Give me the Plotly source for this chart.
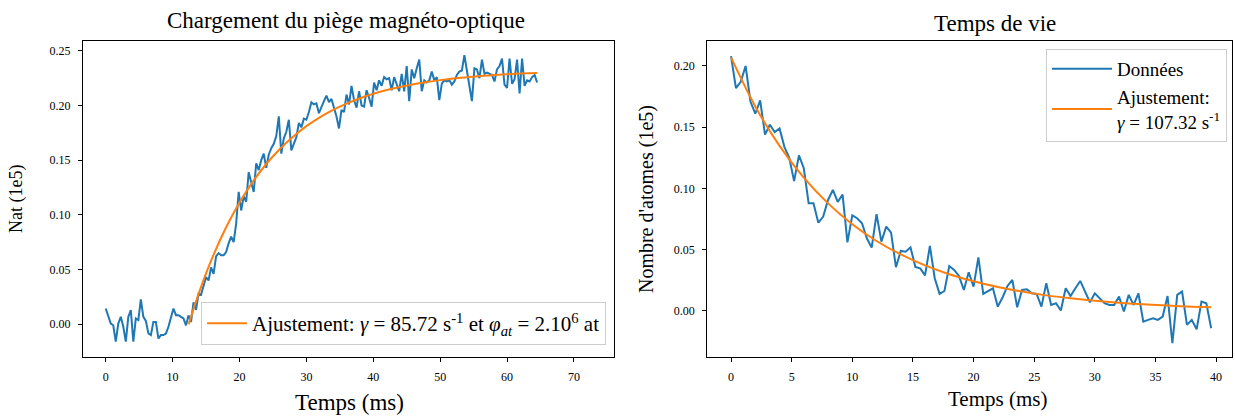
import numpy as np
import plotly.graph_objects as go

# --- Chargement du MOT (gauche) ---
charge_dt = 0.375  # ms entre deux points
charge_nat = [
    0.0143, 0.0082, 0.0006, -0.001, -0.016, 0.0006, 0.0067, -0.0024, -0.016, 0.0067,
    0.0128, -0.016, 0.0052, 0.0037, 0.0226, 0.0067, 0.003, -0.0085, -0.010, 0.0021,
    0.0021, -0.0131, -0.010, -0.010, -0.0085, -0.0024, 0.0067, 0.0143, 0.0082, 0.0082,
    0.0067, 0.0052, -0.001, 0.008, 0.002, 0.020, 0.013, 0.028, 0.027, 0.036,
    0.043, 0.040, 0.052, 0.046, 0.062, 0.065, 0.063, 0.063, 0.066, 0.074,
    0.080, 0.075, 0.092, 0.121, 0.104, 0.117, 0.112, 0.139, 0.130, 0.121,
    0.147, 0.141, 0.150, 0.156, 0.143, 0.155, 0.161, 0.165, 0.172, 0.190,
    0.156, 0.170, 0.176, 0.187, 0.159, 0.165, 0.171, 0.184, 0.180, 0.188,
    0.187, 0.194, 0.203, 0.201, 0.202, 0.193, 0.199, 0.204, 0.209, 0.203,
    0.206, 0.198, 0.190, 0.179, 0.196, 0.194, 0.210, 0.201, 0.218, 0.205,
    0.198, 0.213, 0.200, 0.199, 0.214, 0.207, 0.199, 0.221, 0.214, 0.223,
    0.218, 0.226, 0.224, 0.225, 0.214, 0.226, 0.220, 0.213, 0.229, 0.213,
    0.236, 0.204, 0.233, 0.225, 0.234, 0.242, 0.213, 0.223, 0.221, 0.223,
    0.231, 0.223, 0.226, 0.205, 0.220, 0.223, 0.222, 0.223, 0.219, 0.222,
    0.228, 0.231, 0.232, 0.246, 0.232, 0.216, 0.204, 0.234, 0.233, 0.225,
    0.242, 0.229, 0.230, 0.229, 0.228, 0.222, 0.233, 0.236, 0.243, 0.219,
    0.216, 0.243, 0.220, 0.224, 0.242, 0.211, 0.243, 0.218, 0.223, 0.222,
    0.226, 0.228, 0.221,
]
charge_t = np.arange(len(charge_nat)) * charge_dt

fit_charge_t = [12.4, 14, 16, 18, 20, 22, 24, 26, 28, 30, 32, 34, 36, 38, 40,
                42, 44, 46, 48, 50, 52, 54, 56, 58, 60, 62, 64.5]
fit_charge_nat = [0.0, 0.0298, 0.0617, 0.0886, 0.1113, 0.1304, 0.1465, 0.1600,
                  0.1714, 0.1811, 0.1892, 0.1960, 0.2017, 0.2066, 0.2107, 0.2141,
                  0.2170, 0.2195, 0.2215, 0.2232, 0.2247, 0.2259, 0.2270, 0.2278,
                  0.2286, 0.2292, 0.2298]

# --- Temps de vie (droite) ---
vie_dt = 0.4
vie_nat = [
    0.208, 0.182, 0.187, 0.200, 0.171, 0.161, 0.172, 0.144, 0.152, 0.146,
    0.149, 0.134, 0.125, 0.106, 0.127, 0.1165, 0.088, 0.088, 0.072, 0.077,
    0.0906, 0.0988, 0.089, 0.095, 0.056, 0.078, 0.0757, 0.0716, 0.0593, 0.0517,
    0.079, 0.0566, 0.0688, 0.064, 0.0357, 0.049, 0.0484, 0.052, 0.036, 0.0348,
    0.029, 0.053, 0.0267, 0.0139, 0.0163, 0.0367, 0.0335, 0.0286, 0.0171, 0.0316,
    0.0198, 0.0438, 0.0139, 0.0163, 0.0185, 0.0035, 0.0112, 0.0204, 0.0253, 0.003,
    0.0171, 0.0177, 0.0144, 0.0139, 0.0035, 0.0226, 0.0049, 0.0063, 0.0003, 0.0185,
    0.0122, 0.0185, 0.0245, 0.0158, 0.0071, 0.0144, 0.0104, 0.0063, 0.0049, 0.0049,
    0.0117, -0.0005, 0.0131, 0.0049, 0.0144, -0.0087, -0.0073, -0.006, -0.0073, -0.0046,
    0.0122, -0.0264, 0.0131, 0.0158, -0.0114, -0.0073, -0.015, 0.0076, 0.0063, -0.0141,
]
vie_t = np.arange(len(vie_nat)) * vie_dt

fit_vie_t = [0, 2, 4, 6, 8, 10, 12, 14, 16, 18, 20, 22, 24, 26, 28, 30, 32, 34, 36, 38, 39.6]
fit_vie_nat = [0.2070, 0.1670, 0.1348, 0.1088, 0.0878, 0.0708, 0.0571, 0.0461, 0.0372,
               0.0300, 0.0242, 0.0196, 0.0158, 0.0127, 0.0103, 0.0083, 0.0067, 0.0054,
               0.0044, 0.0035, 0.0030]

BLUE = "#1f77b4"
ORANGE = "#ff7f0e"
FONT = "Liberation Serif"

fig = go.Figure()

fig.add_trace(go.Scatter(x=charge_t, y=charge_nat, mode="lines",
                         line=dict(color=BLUE, width=2), showlegend=False,
                         xaxis="x", yaxis="y"))
fig.add_trace(go.Scatter(x=fit_charge_t, y=fit_charge_nat, mode="lines",
                         line=dict(color=ORANGE, width=2, shape="spline"),
                         name="Ajustement: <i>γ</i> = 85.72 s<sup>-1</sup> et "
                              "<i>φ<sub>at</sub></i> = 2.10<sup>6</sup> at",
                         xaxis="x", yaxis="y", legend="legend"))

fig.add_trace(go.Scatter(x=vie_t, y=vie_nat, mode="lines",
                         line=dict(color=BLUE, width=2), name="Données",
                         xaxis="x2", yaxis="y2", legend="legend2"))
fig.add_trace(go.Scatter(x=fit_vie_t, y=fit_vie_nat, mode="lines",
                         line=dict(color=ORANGE, width=2, shape="spline"),
                         name="Ajustement:<br><i>γ</i> = 107.32 s<sup>-1</sup>",
                         xaxis="x2", yaxis="y2", legend="legend2"))

axis_common = dict(showline=True, mirror=True, linecolor="black", linewidth=1,
                   ticks="outside", ticklen=4, tickcolor="black", showgrid=False,
                   zeroline=False, ticklabelstandoff=5)


def label(text, x, y, size, angle=0):
    return dict(text=text, x=x, y=y, xref="paper", yref="paper", xanchor="center",
                yanchor="middle", showarrow=False, textangle=angle, font=dict(size=size))


fig.update_layout(
    width=1235, height=417,
    margin=dict(l=0, r=0, t=0, b=0),
    paper_bgcolor="white", plot_bgcolor="white",
    font=dict(family=FONT, color="black"),
    xaxis=dict(domain=[0.0672, 0.4972], range=[-3.4, 76.0], tickvals=list(range(0, 71, 10)),
               tickfont=dict(size=12), anchor="y", **axis_common),
    yaxis=dict(domain=[0.1439, 0.9017], range=[-0.030, 0.259], tickvals=[0, 0.05, 0.10, 0.15, 0.20, 0.25],
               tickformat=".2f", tickfont=dict(size=12), anchor="x", **axis_common),
    xaxis2=dict(domain=[0.5725, 0.9976], range=[-1.98, 41.32], tickvals=list(range(0, 41, 5)),
                tickfont=dict(size=12), anchor="y2", **axis_common),
    yaxis2=dict(domain=[0.1439, 0.9017], range=[-0.0376, 0.2204], tickvals=[0, 0.05, 0.10, 0.15, 0.20],
                tickformat=".2f", tickfont=dict(size=12), anchor="x2", **axis_common),
    legend=dict(x=0.4907, y=0.1727, xanchor="right", yanchor="bottom",
                bgcolor="rgba(255,255,255,0.8)", bordercolor="#cccccc", borderwidth=1,
                itemwidth=40, font=dict(size=21, family=FONT)),
    legend2=dict(x=0.9935, y=0.8825, xanchor="right", yanchor="top",
                 bgcolor="rgba(255,255,255,0.8)", bordercolor="#cccccc", borderwidth=1,
                 itemwidth=60, tracegroupgap=2, font=dict(size=19, family=FONT)),
    annotations=[
        label("Chargement du piège magnéto-optique", 0.2802, 0.95, 23),
        label("Temps de vie", 0.8053, 0.943, 23),
        label("Temps (ms)", 0.2834, 0.034, 23),
        label("Temps (ms)", 0.8077, 0.043, 21),
        label("Nat (1e5)", 0.0138, 0.523, 18, -90),
        label("Nombre d'atomes (1e5)", 0.524, 0.523, 20, -90),
    ],
)

fig.write_html("out.html", config={"displayModeBar": False},
               post_script="document.body.style.margin='0';")
